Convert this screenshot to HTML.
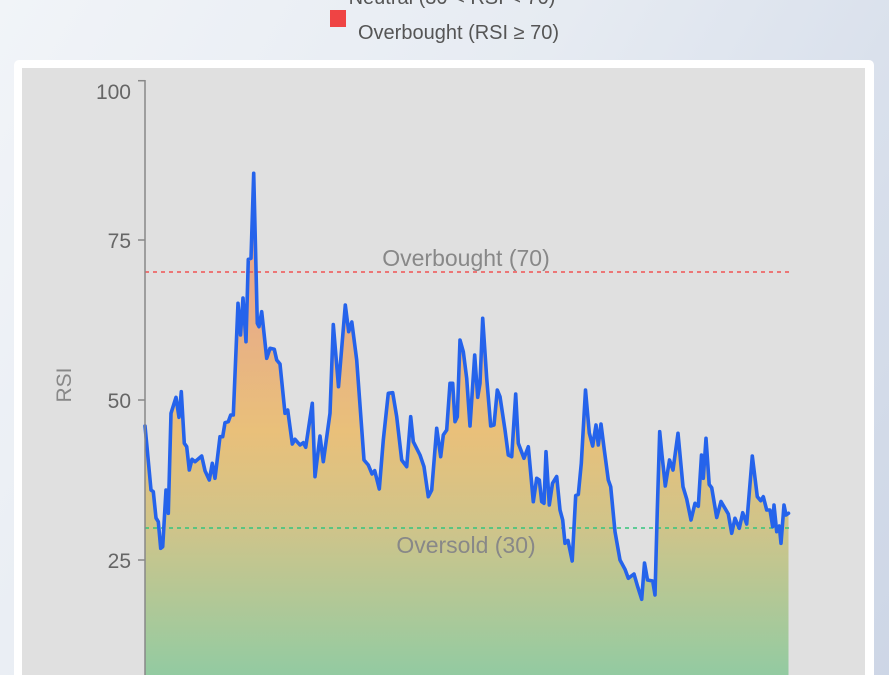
<!DOCTYPE html>
<html><head><meta charset="utf-8">
<style>
html,body{margin:0;padding:0;width:889px;height:675px;overflow:hidden;}
body{background:linear-gradient(120deg,#f1f4f8 0%,#e6ebf2 45%,#cdd6e6 100%);font-family:"Liberation Sans",Arial,sans-serif;position:relative;}
.card{position:absolute;left:14px;top:60px;width:860px;height:640px;background:#fff;border-radius:5px;}
.inner{position:absolute;left:22px;top:68px;width:843px;height:620px;background:#e0e0e0;}
svg{position:absolute;left:0;top:0;}
</style></head>
<body>
<div class="card"></div>
<div class="inner"></div>
<svg width="889" height="675" viewBox="0 0 889 675" xmlns="http://www.w3.org/2000/svg">
<defs>
<linearGradient id="g" gradientUnits="userSpaceOnUse" x1="0" y1="80" x2="0" y2="720">
<stop offset="0" stop-color="#e89a90"/>
<stop offset="0.35" stop-color="#e8ac88"/>
<stop offset="0.55" stop-color="#e9c07a"/>
<stop offset="0.7" stop-color="#cfc48a"/>
<stop offset="0.85" stop-color="#a8c99a"/>
<stop offset="1" stop-color="#80cca8"/>
</linearGradient>
</defs>
<!-- legend -->
<text x="452" y="4" font-size="20" fill="#555" text-anchor="middle">Neutral (30 &lt; RSI &lt; 70)</text>
<rect x="330" y="10" width="16" height="17" fill="#ef4444"/>
<text x="358" y="39" font-size="20" fill="#555">Overbought (RSI ≥ 70)</text>

<!-- area fill -->
<polygon fill="url(#g)" points="145,426 147,447 151,490 153.3,491.7 156,518 158.3,521.7 160.7,548.3 162.7,546.7 166,490 168.3,513.3 171,413.3 176,397.3 179,417.3 181.3,391.7 184.3,443.3 186.7,446.7 189.3,470 192,459.3 195,461.7 201.7,456 205,470.7 209.3,480 212.3,463.3 215,478.3 220,436.7 222.7,436.7 225,422.7 228.3,421.7 230.7,415 233.3,415 238,303.3 240.5,335 243,298 246,341.7 248.3,259.3 251,258.3 253.7,173.3 257.3,323.3 259,326.7 261.7,311.7 266.7,358.3 270,348.3 274.3,349.3 276.7,360 280,364 285,413.3 287.7,410 292.3,444 295,439.3 300,445 303.3,442.7 305.7,447.3 312.3,403.3 315,476.7 320,436 323.3,461.7 330,413.3 333.3,324.5 338.5,386.7 345.3,305 348.7,331.7 351.8,322 356.7,360 364,460 368.3,465 372,474 374.7,470.7 379.3,489 383.3,440 388.3,393.3 392.7,392.7 396.7,416.7 401.7,460 406.7,466.7 410.7,416.7 413.3,441.7 420,455 424,466.7 428.3,496.7 431.7,490 436.7,428.3 440.7,456.7 443.3,435 446.7,430 450,383.3 452.7,383.3 455,421.7 457.3,416.7 460,340 463.3,351.7 466.7,378.3 470,426 474.7,355 477.7,397.3 480,383.3 482.7,318.3 486.7,378.3 490.7,426 494,425 497.3,390 500,396.7 505,430 508.3,455 511.7,456.7 515.7,394 518.3,443.3 524,458.3 528.3,446.7 533.3,501.7 536.7,478.3 539.3,480 541.7,501.7 544,503.3 546,451.7 549.3,505 552.5,483.3 556.7,476.5 560,510 562.7,520 565,543.3 568,540.5 572.2,561 575.7,495.5 578.3,494.5 581.3,463.3 585.5,390 589.3,433 592.7,446 596,425 598.3,445 601,424 604.3,450 608.3,480 610.7,486.7 615,531.7 620,560 625,569.3 628.3,578.3 634,574 637.7,586.7 641.7,599.3 644.5,563 647.5,580 652.7,581 655,595 657.3,510 659.7,431.7 662,455 665.3,486 669.5,460 673,470 678,433.3 683,486.7 686.7,499 691,520 695,503.3 698.3,506.3 701.5,455 703.3,478.3 706,438.3 709.2,484.5 711.7,487.7 716.7,517.5 721,501.5 728.3,514 731.7,533.3 735,518.3 739.3,528.3 742.7,512.7 746.7,524 752.3,456 757.3,496.7 760.7,500.7 763.3,496.7 766.7,510 770,510 772.7,526.7 774,505 776.7,531.7 779.3,526 781,543.3 784,505 786,515 788.5,513.3 788.5,690 145,690"/>

<!-- reference lines -->
<line x1="145" y1="272" x2="789" y2="272" stroke="#f05252" stroke-width="1.4" stroke-dasharray="4,4"/>
<line x1="145" y1="528" x2="789" y2="528" stroke="#34c47c" stroke-width="1.4" stroke-dasharray="4,4"/>
<text x="466" y="266" font-size="23" fill="#888" text-anchor="middle">Overbought (70)</text>
<text x="466" y="553" font-size="23" fill="#888" text-anchor="middle">Oversold (30)</text>

<!-- line -->
<polyline fill="none" stroke="#2563eb" stroke-width="3.6" stroke-linejoin="round" stroke-linecap="round" points="145,426 147,447 151,490 153.3,491.7 156,518 158.3,521.7 160.7,548.3 162.7,546.7 166,490 168.3,513.3 171,413.3 176,397.3 179,417.3 181.3,391.7 184.3,443.3 186.7,446.7 189.3,470 192,459.3 195,461.7 201.7,456 205,470.7 209.3,480 212.3,463.3 215,478.3 220,436.7 222.7,436.7 225,422.7 228.3,421.7 230.7,415 233.3,415 238,303.3 240.5,335 243,298 246,341.7 248.3,259.3 251,258.3 253.7,173.3 257.3,323.3 259,326.7 261.7,311.7 266.7,358.3 270,348.3 274.3,349.3 276.7,360 280,364 285,413.3 287.7,410 292.3,444 295,439.3 300,445 303.3,442.7 305.7,447.3 312.3,403.3 315,476.7 320,436 323.3,461.7 330,413.3 333.3,324.5 338.5,386.7 345.3,305 348.7,331.7 351.8,322 356.7,360 364,460 368.3,465 372,474 374.7,470.7 379.3,489 383.3,440 388.3,393.3 392.7,392.7 396.7,416.7 401.7,460 406.7,466.7 410.7,416.7 413.3,441.7 420,455 424,466.7 428.3,496.7 431.7,490 436.7,428.3 440.7,456.7 443.3,435 446.7,430 450,383.3 452.7,383.3 455,421.7 457.3,416.7 460,340 463.3,351.7 466.7,378.3 470,426 474.7,355 477.7,397.3 480,383.3 482.7,318.3 486.7,378.3 490.7,426 494,425 497.3,390 500,396.7 505,430 508.3,455 511.7,456.7 515.7,394 518.3,443.3 524,458.3 528.3,446.7 533.3,501.7 536.7,478.3 539.3,480 541.7,501.7 544,503.3 546,451.7 549.3,505 552.5,483.3 556.7,476.5 560,510 562.7,520 565,543.3 568,540.5 572.2,561 575.7,495.5 578.3,494.5 581.3,463.3 585.5,390 589.3,433 592.7,446 596,425 598.3,445 601,424 604.3,450 608.3,480 610.7,486.7 615,531.7 620,560 625,569.3 628.3,578.3 634,574 637.7,586.7 641.7,599.3 644.5,563 647.5,580 652.7,581 655,595 657.3,510 659.7,431.7 662,455 665.3,486 669.5,460 673,470 678,433.3 683,486.7 686.7,499 691,520 695,503.3 698.3,506.3 701.5,455 703.3,478.3 706,438.3 709.2,484.5 711.7,487.7 716.7,517.5 721,501.5 728.3,514 731.7,533.3 735,518.3 739.3,528.3 742.7,512.7 746.7,524 752.3,456 757.3,496.7 760.7,500.7 763.3,496.7 766.7,510 770,510 772.7,526.7 774,505 776.7,531.7 779.3,526 781,543.3 784,505 786,515 788.5,513.3"/>

<!-- axis -->
<line x1="145" y1="80" x2="145" y2="675" stroke="#888" stroke-width="1.5"/>
<g stroke="#888" stroke-width="1.5">
<line x1="138" y1="80.7" x2="145" y2="80.7"/>
<line x1="138" y1="240" x2="145" y2="240"/>
<line x1="138" y1="400" x2="145" y2="400"/>
<line x1="138" y1="560" x2="145" y2="560"/>
</g>
<g font-size="21" fill="#666" text-anchor="end">
<text x="131" y="99">100</text>
<text x="131" y="248">75</text>
<text x="131" y="408">50</text>
<text x="131" y="568">25</text>
</g>
<text x="71" y="385" font-size="21" fill="#888" text-anchor="middle" transform="rotate(-90 71 385)">RSI</text>
</svg>
</body></html>
